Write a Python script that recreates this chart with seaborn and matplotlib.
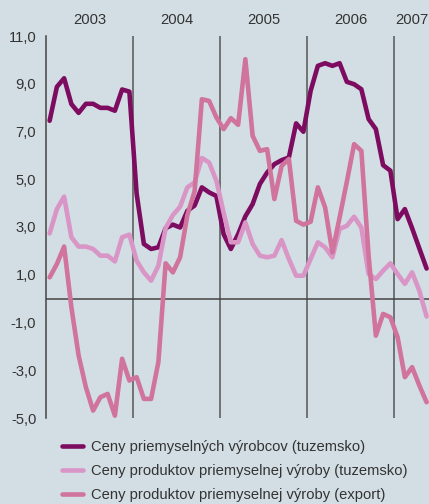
import matplotlib
matplotlib.use("Agg")
import pandas as pd
import matplotlib.pyplot as plt
import seaborn as sns
from matplotlib.lines import Line2D
from matplotlib.ticker import FuncFormatter, FixedLocator

# roky nad grafom
YEARS = ["2003", "2004", "2005", "2006", "2007"]
YEAR_POS = [5.5, 17.5, 29.5, 41.5, 49.9]
YEAR_BOUNDS = [11.5, 23.5, 35.5, 47.5]

SERIES = [
    "Ceny priemyselných výrobcov (tuzemsko)",
    "Ceny produktov priemyselnej výroby (tuzemsko)",
    "Ceny produktov priemyselnej výroby (export)",
]
COLORS = ["#7d0c61", "#d895c6", "#d0739d"]

# mesačné hodnoty jan 2003 - máj 2007
vyrobcov_tuz = [
    7.45, 8.87, 9.23, 8.15, 7.78, 8.16, 8.16, 7.99, 7.99, 7.87, 8.76, 8.67,
    4.4, 2.29, 2.08, 2.15, 2.95, 3.1, 2.98, 3.68, 3.9, 4.66, 4.45, 4.3,
    2.7, 2.08, 2.7, 3.45, 3.96, 4.8, 5.28, 5.63, 5.8, 5.91, 7.34, 6.99,
    8.7, 9.75, 9.86, 9.75, 9.86, 9.08, 8.98, 8.77, 7.52, 7.1, 5.59, 5.36,
    3.33, 3.75, 2.95, 2.1, 1.26,
]
produkty_tuz = [
    2.73, 3.75, 4.27, 2.57, 2.18, 2.18, 2.08, 1.8, 1.8, 1.56, 2.57, 2.68,
    1.59, 1.1, 0.75, 1.38, 2.95, 3.5, 3.85, 4.66, 4.87, 5.89, 5.7, 4.94,
    3.6, 2.36, 2.36, 3.19, 2.29, 1.8, 1.73, 1.8, 2.45, 1.66, 0.96, 0.96,
    1.66, 2.36, 2.15, 1.73, 2.92, 3.05, 3.43, 2.98, 1.03, 0.82, 1.17, 1.48,
    1.03, 0.62, 1.1, 0.33, -0.75,
]
produkty_exp = [
    0.89, 1.45, 2.18, -0.36, -2.38, -3.71, -4.69, -4.13, -3.99, -4.9, -2.52, -3.43,
    -3.29, -4.2, -4.2, -2.66, 1.48, 1.1, 1.73, 3.5, 4.5, 8.35, 8.28, 7.59,
    7.1, 7.56, 7.28, 10.03, 6.82, 6.19, 6.26, 4.17, 5.56, 5.85, 3.26, 3.1,
    3.22, 4.66, 3.82, 1.94, 3.4, 4.9, 6.47, 6.19, 1.8, -1.55, -0.64, -0.78,
    -1.62, -3.29, -2.87, -3.64, -4.34,
]
Y_TICKS = [11, 9, 7, 5, 3, 1, -1, -3, -5]

BG = "#d3dee4"
TXT = "#333333"
FS = 10.6

rows = []
for name, vals in zip(SERIES, [vyrobcov_tuz, produkty_tuz, produkty_exp]):
    for i, v in enumerate(vals):
        rows.append({"mesiac": i, "hodnota": v, "rad": name})
df = pd.DataFrame(rows)

sns.set_style("white")
plt.rcParams["font.family"] = ["Liberation Sans", "DejaVu Sans"]

fig = plt.figure(figsize=(4.29, 5.04), dpi=100)
fig.patch.set_facecolor(BG)
ax = fig.add_axes([46 / 429, 1 - 418 / 504, 383 / 429, 382 / 504])
ax.set_facecolor(BG)

sns.lineplot(data=df, x="mesiac", y="hodnota", hue="rad", hue_order=SERIES,
             palette=COLORS, linewidth=3.3, legend=False, ax=ax, zorder=3)

for b in YEAR_BOUNDS:
    ax.axvline(b, color="#555555", lw=1.1, zorder=1)
ax.axhline(0, color="#444444", lw=1.1, zorder=1)

ax.set_xlim(-0.5, 52.33)
ax.set_ylim(-5, 11)
ax.set_xticks([])
ax.set_xlabel("")
ax.set_ylabel("")
ax.yaxis.set_major_locator(FixedLocator(Y_TICKS))
ax.yaxis.set_major_formatter(FuncFormatter(lambda v, p: f"{v:.1f}".replace(".", ",")))
ax.tick_params(axis="y", length=5, width=1.1, color="#444444", labelsize=FS,
               labelcolor=TXT, pad=2)

for s in ["top", "right", "bottom"]:
    ax.spines[s].set_visible(False)
ax.spines["left"].set_color("#444444")
ax.spines["left"].set_linewidth(1.1)

for lab, x in zip(YEARS, YEAR_POS):
    ax.text(x, 1.042, lab, transform=ax.get_xaxis_transform(), ha="center",
            va="center", fontsize=FS, color=TXT)

handles = [Line2D([0], [0], color=c, lw=3.3) for c in COLORS]
fig.legend(handles, SERIES, loc="upper left", bbox_to_anchor=(62 / 429, 1 - 440 / 504),
           frameon=False, fontsize=FS, handlelength=1.45, handletextpad=0.5,
           labelspacing=0.68, borderpad=0, borderaxespad=0, labelcolor=TXT)

fig.savefig("out.png", dpi=100, facecolor=BG)
